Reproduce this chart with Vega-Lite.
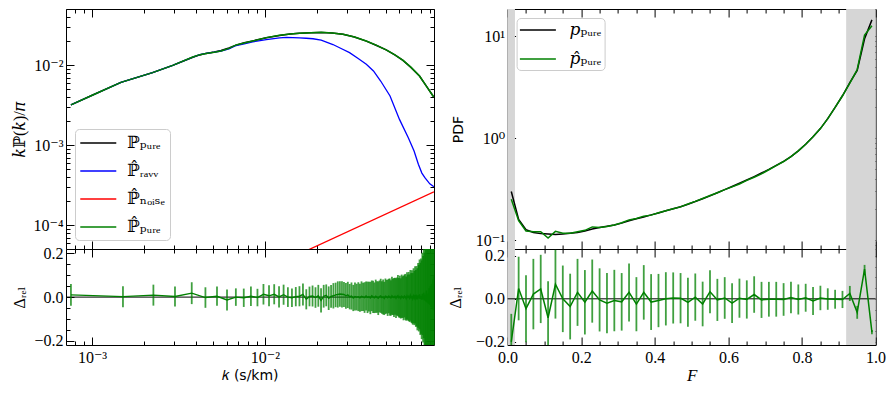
{
"$schema": "https://vega.github.io/schema/vega-lite/v6.json",
"background": "white",
"padding": {"left": 11, "top": 8, "right": 18, "bottom": 6},
"config": {
 "view": {"stroke": "black", "strokeWidth": 1},
 "axis": {"domain": false, "grid": false, "zindex": 1, "labelFont": "Liberation Serif, DejaVu Serif", "labelFontSize": 16, "labelColor": "black", "tickColor": "black", "tickWidth": 1, "titleFont": "Liberation Serif, DejaVu Serif", "titleFontSize": 16, "titleFontWeight": "normal", "titleColor": "black", "labelOverlap": false, "labelFlush": false},
 "legend": {"labelFont": "Liberation Serif, DejaVu Serif", "labelFontSize": 17, "labelColor": "black", "symbolType": "M-1.09,0H3.41", "symbolSize": 256, "symbolStrokeWidth": 1.5, "strokeColor": "#cccccc", "fillColor": "white", "cornerRadius": 4, "padding": 5, "rowPadding": 11, "labelOffset": 29, "offset": 9}
},
"datasets": {
 "ps": [
  {"k":0.000755,"v":0.0032,"s":"P"},{"k":0.00101,"v":0.00426,"s":"P"},{"k":0.00147,"v":0.00612,"s":"P"},{"k":0.00224,"v":0.0081,"s":"P"},{"k":0.00293,"v":0.01,"s":"P"},{"k":0.00383,"v":0.0126,"s":"P"},{"k":0.0042,"v":0.0135,"s":"P"},{"k":0.00457,"v":0.0141,"s":"P"},{"k":0.0051,"v":0.0147,"s":"P"},{"k":0.00558,"v":0.0153,"s":"P"},{"k":0.0062,"v":0.0165,"s":"P"},{"k":0.00682,"v":0.0179,"s":"P"},{"k":0.0076,"v":0.0191,"s":"P"},{"k":0.00851,"v":0.0202,"s":"P"},{"k":0.01019,"v":0.0221,"s":"P"},{"k":0.01216,"v":0.0236,"s":"P"},{"k":0.014,"v":0.0246,"s":"P"},{"k":0.01585,"v":0.0251,"s":"P"},{"k":0.0185,"v":0.0256,"s":"P"},{"k":0.02118,"v":0.0258,"s":"P"},{"k":0.0245,"v":0.0254,"s":"P"},{"k":0.02831,"v":0.0244,"s":"P"},{"k":0.033,"v":0.0226,"s":"P"},{"k":0.03864,"v":0.0201,"s":"P"},{"k":0.044,"v":0.0178,"s":"P"},{"k":0.05035,"v":0.0156,"s":"P"},{"k":0.0565,"v":0.0135,"s":"P"},{"k":0.063,"v":0.01155,"s":"P"},{"k":0.07,"v":0.0094,"s":"P"},{"k":0.0785,"v":0.00736,"s":"P"},{"k":0.086,"v":0.0055,"s":"P"},{"k":0.094,"v":0.00414,"s":"P"},{"k":0.0951,"v":0.004,"s":"P"},
  {"k":0.000755,"v":0.0032,"s":"R"},{"k":0.00101,"v":0.00426,"s":"R"},{"k":0.00147,"v":0.00613,"s":"R"},{"k":0.00224,"v":0.0081,"s":"R"},{"k":0.00293,"v":0.01,"s":"R"},{"k":0.00383,"v":0.0127,"s":"R"},{"k":0.0042,"v":0.0136,"s":"R"},{"k":0.00457,"v":0.0141,"s":"R"},{"k":0.0051,"v":0.0146,"s":"R"},{"k":0.00558,"v":0.0151,"s":"R"},{"k":0.0062,"v":0.0161,"s":"R"},{"k":0.00682,"v":0.0177,"s":"R"},{"k":0.0076,"v":0.0186,"s":"R"},{"k":0.00851,"v":0.0197,"s":"R"},{"k":0.01019,"v":0.021,"s":"R"},{"k":0.01216,"v":0.022,"s":"R"},{"k":0.01335,"v":0.0224,"s":"R"},{"k":0.01585,"v":0.0221,"s":"R"},{"k":0.01734,"v":0.0218,"s":"R"},{"k":0.019,"v":0.0215,"s":"R"},{"k":0.02118,"v":0.0206,"s":"R"},{"k":0.02477,"v":0.0182,"s":"R"},{"k":0.028,"v":0.016,"s":"R"},{"k":0.0309,"v":0.0144,"s":"R"},{"k":0.0345,"v":0.01224,"s":"R"},{"k":0.03864,"v":0.0103,"s":"R"},{"k":0.0425,"v":0.0085,"s":"R"},{"k":0.04677,"v":0.00637,"s":"R"},{"k":0.053,"v":0.00414,"s":"R"},{"k":0.0601,"v":0.00211,"s":"R"},{"k":0.0676,"v":0.001245,"s":"R"},{"k":0.073,"v":0.00085,"s":"R"},{"k":0.0773,"v":0.000579,"s":"R"},{"k":0.081,"v":0.00045,"s":"R"},{"k":0.0843,"v":0.000394,"s":"R"},{"k":0.09,"v":0.00033,"s":"R"},{"k":0.0951,"v":0.000304,"s":"R"},
  {"k":0.012,"v":0.0000332,"s":"N"},{"k":0.0951,"v":0.000263,"s":"N"},
  {"k":0.000755,"v":0.0032,"s":"H"},{"k":0.00101,"v":0.00426,"s":"H"},{"k":0.00147,"v":0.00613,"s":"H"},{"k":0.00224,"v":0.0081,"s":"H"},{"k":0.00293,"v":0.01,"s":"H"},{"k":0.00383,"v":0.0127,"s":"H"},{"k":0.0042,"v":0.0136,"s":"H"},{"k":0.00457,"v":0.0141,"s":"H"},{"k":0.0051,"v":0.0146,"s":"H"},{"k":0.00558,"v":0.0151,"s":"H"},{"k":0.0062,"v":0.0163,"s":"H"},{"k":0.00682,"v":0.018,"s":"H"},{"k":0.0076,"v":0.019,"s":"H"},{"k":0.00851,"v":0.0201,"s":"H"},{"k":0.01019,"v":0.0222,"s":"H"},{"k":0.01216,"v":0.0237,"s":"H"},{"k":0.014,"v":0.0246,"s":"H"},{"k":0.01585,"v":0.0251,"s":"H"},{"k":0.0185,"v":0.0256,"s":"H"},{"k":0.02118,"v":0.0259,"s":"H"},{"k":0.0245,"v":0.0254,"s":"H"},{"k":0.02831,"v":0.0244,"s":"H"},{"k":0.033,"v":0.0226,"s":"H"},{"k":0.03864,"v":0.0201,"s":"H"},{"k":0.044,"v":0.0179,"s":"H"},{"k":0.05035,"v":0.0156,"s":"H"},{"k":0.0565,"v":0.0135,"s":"H"},{"k":0.063,"v":0.01155,"s":"H"},{"k":0.07,"v":0.0095,"s":"H"},{"k":0.0785,"v":0.00736,"s":"H"},{"k":0.086,"v":0.0055,"s":"H"},{"k":0.094,"v":0.00414,"s":"H"},{"k":0.0951,"v":0.004,"s":"H"}
 ],
 "lr": [
  {"k":0.000755,"d":0.010,"e":0.050},{"k":0.00151,"d":0.002,"e":0.048},{"k":0.002265,"d":0.009,"e":0.048},{"k":0.00302,"d":0.003,"e":0.046},{"k":0.003775,"d":0.018,"e":0.050},
  {"k":0.00453,"d":-0.002,"e":0.047},{"k":0.005285,"d":0.004,"e":0.044},{"k":0.00604,"d":-0.013,"e":0.048},{"k":0.006795,"d":0.000,"e":0.040},{"k":0.00755,"d":-0.003,"e":0.042},
  {"k":0.008305,"d":0.004,"e":0.045},{"k":0.00906,"d":-0.002,"e":0.040},{"k":0.009815,"d":0.013,"e":0.047},{"k":0.01057,"d":0.006,"e":0.048},{"k":0.011325,"d":0.013,"e":0.046},
  {"k":0.01208,"d":0.001,"e":0.049},{"k":0.012835,"d":0.011,"e":0.046},{"k":0.01359,"d":0.000,"e":0.045},{"k":0.014345,"d":-0.003,"e":0.042},{"k":0.0151,"d":0.002,"e":0.044},
  {"k":0.015855,"d":0.004,"e":0.046},{"k":0.01661,"d":0.012,"e":0.050},{"k":0.017365,"d":-0.010,"e":0.046},{"k":0.01812,"d":0.003,"e":0.045},{"k":0.018875,"d":0.005,"e":0.048},
  {"k":0.01963,"d":-0.002,"e":0.047},{"k":0.020385,"d":0.006,"e":0.050},{"k":0.02114,"d":-0.015,"e":0.055},{"k":0.021895,"d":0.004,"e":0.052},{"k":0.02265,"d":0.008,"e":0.050},
  {"k":0.023405,"d":-0.005,"e":0.054},{"k":0.02416,"d":0.003,"e":0.052},{"k":0.024915,"d":0.006,"e":0.058},{"k":0.02567,"d":0.010,"e":0.056},{"k":0.026425,"d":0.012,"e":0.060},
  {"k":0.02718,"d":0.014,"e":0.058},{"k":0.027935,"d":0.013,"e":0.060},{"k":0.02869,"d":0.012,"e":0.057},{"k":0.029445,"d":0.006,"e":0.059},{"k":0.0302,"d":0.010,"e":0.060},
  {"k":0.030955,"d":0.002,"e":0.058},{"k":0.03171,"d":0.005,"e":0.062},{"k":0.032465,"d":-0.004,"e":0.060},{"k":0.03322,"d":0.003,"e":0.064},{"k":0.033975,"d":0.000,"e":0.061},
  {"k":0.03473,"d":0.002,"e":0.066},{"k":0.035485,"d":-0.003,"e":0.064},{"k":0.03624,"d":0.004,"e":0.068},{"k":0.036995,"d":0.001,"e":0.065},{"k":0.03775,"d":-0.002,"e":0.070},
  {"k":0.038505,"d":0.005,"e":0.066},{"k":0.03926,"d":-0.001,"e":0.072},{"k":0.040015,"d":0.002,"e":0.068},{"k":0.04077,"d":-0.004,"e":0.074},{"k":0.041525,"d":0.006,"e":0.070},
  {"k":0.04228,"d":0.001,"e":0.074},{"k":0.043035,"d":-0.003,"e":0.070},{"k":0.04379,"d":0.004,"e":0.076},{"k":0.044545,"d":0.000,"e":0.072},{"k":0.0453,"d":-0.005,"e":0.077},
  {"k":0.046055,"d":0.003,"e":0.073},{"k":0.04681,"d":0.006,"e":0.078},{"k":0.047565,"d":-0.002,"e":0.074},{"k":0.04832,"d":0.001,"e":0.080},{"k":0.049075,"d":-0.006,"e":0.076},
  {"k":0.04983,"d":0.004,"e":0.081},{"k":0.050585,"d":0.002,"e":0.077},{"k":0.05134,"d":-0.003,"e":0.083},{"k":0.052095,"d":0.005,"e":0.079},{"k":0.05285,"d":0.000,"e":0.085},
  {"k":0.053605,"d":-0.004,"e":0.081},{"k":0.05436,"d":0.006,"e":0.087},{"k":0.055115,"d":0.001,"e":0.083},{"k":0.05587,"d":-0.002,"e":0.089},{"k":0.056625,"d":0.004,"e":0.085},
  {"k":0.05738,"d":-0.005,"e":0.091},{"k":0.058135,"d":0.003,"e":0.087},{"k":0.05889,"d":0.007,"e":0.094},{"k":0.059645,"d":-0.003,"e":0.090},{"k":0.0604,"d":0.002,"e":0.096},
  {"k":0.061155,"d":-0.006,"e":0.092},{"k":0.06191,"d":0.004,"e":0.099},{"k":0.062665,"d":0.000,"e":0.095},{"k":0.06342,"d":-0.004,"e":0.102},{"k":0.064175,"d":0.005,"e":0.098},
  {"k":0.06493,"d":0.001,"e":0.105},{"k":0.065685,"d":-0.007,"e":0.101},{"k":0.06644,"d":0.006,"e":0.108},{"k":0.067195,"d":-0.002,"e":0.105},{"k":0.06795,"d":0.003,"e":0.112},
  {"k":0.068705,"d":-0.005,"e":0.109},{"k":0.06946,"d":0.008,"e":0.116},{"k":0.070215,"d":-0.003,"e":0.113},{"k":0.07097,"d":0.002,"e":0.121},{"k":0.071725,"d":-0.008,"e":0.118},
  {"k":0.07248,"d":0.006,"e":0.126},{"k":0.073235,"d":-0.004,"e":0.124},{"k":0.07399,"d":0.010,"e":0.131},{"k":0.074745,"d":-0.006,"e":0.130},{"k":0.0755,"d":0.004,"e":0.138},
  {"k":0.076255,"d":-0.010,"e":0.142},{"k":0.07701,"d":0.008,"e":0.148},{"k":0.077765,"d":-0.005,"e":0.152},{"k":0.07852,"d":0.012,"e":0.160},{"k":0.079275,"d":-0.008,"e":0.165},
  {"k":0.08003,"d":0.005,"e":0.172},{"k":0.080785,"d":-0.012,"e":0.180},{"k":0.08154,"d":0.015,"e":0.188},{"k":0.082295,"d":-0.010,"e":0.198},{"k":0.08305,"d":0.020,"e":0.208},
  {"k":0.083805,"d":-0.015,"e":0.218},{"k":0.08456,"d":0.010,"e":0.23},{"k":0.085315,"d":-0.020,"e":0.24},{"k":0.08607,"d":0.030,"e":0.255},{"k":0.086825,"d":-0.025,"e":0.27},
  {"k":0.08758,"d":0.015,"e":0.29},{"k":0.088335,"d":-0.030,"e":0.300},{"k":0.08909,"d":0.040,"e":0.320},{"k":0.089845,"d":-0.035,"e":0.340},{"k":0.0906,"d":0.050,"e":0.350},
  {"k":0.091355,"d":-0.045,"e":0.370},{"k":0.09211,"d":0.060,"e":0.390},{"k":0.092865,"d":-0.050,"e":0.400},{"k":0.09362,"d":0.080,"e":0.420},{"k":0.094375,"d":-0.060,"e":0.430},
  {"k":0.09513,"d":0.100,"e":0.450}
 ],
 "pdf": [
  {"F":0.01,"v":0.30,"s":"P"},{"F":0.03,"v":0.16,"s":"P"},{"F":0.05,"v":0.127,"s":"P"},{"F":0.07,"v":0.119,"s":"P"},{"F":0.09,"v":0.116,"s":"P"},{"F":0.11,"v":0.115,"s":"P"},{"F":0.13,"v":0.114,"s":"P"},{"F":0.15,"v":0.115,"s":"P"},{"F":0.17,"v":0.117,"s":"P"},{"F":0.19,"v":0.119,"s":"P"},
  {"F":0.21,"v":0.123,"s":"P"},{"F":0.23,"v":0.129,"s":"P"},{"F":0.25,"v":0.133,"s":"P"},{"F":0.27,"v":0.137,"s":"P"},{"F":0.29,"v":0.141,"s":"P"},{"F":0.31,"v":0.147,"s":"P"},{"F":0.33,"v":0.155,"s":"P"},{"F":0.35,"v":0.162,"s":"P"},{"F":0.37,"v":0.169,"s":"P"},{"F":0.39,"v":0.177,"s":"P"},
  {"F":0.41,"v":0.185,"s":"P"},{"F":0.43,"v":0.194,"s":"P"},{"F":0.45,"v":0.203,"s":"P"},{"F":0.47,"v":0.213,"s":"P"},{"F":0.49,"v":0.225,"s":"P"},{"F":0.51,"v":0.239,"s":"P"},{"F":0.53,"v":0.255,"s":"P"},{"F":0.55,"v":0.272,"s":"P"},{"F":0.57,"v":0.292,"s":"P"},{"F":0.59,"v":0.313,"s":"P"},
  {"F":0.61,"v":0.336,"s":"P"},{"F":0.63,"v":0.361,"s":"P"},{"F":0.65,"v":0.389,"s":"P"},{"F":0.67,"v":0.42,"s":"P"},{"F":0.69,"v":0.455,"s":"P"},{"F":0.71,"v":0.494,"s":"P"},{"F":0.73,"v":0.54,"s":"P"},{"F":0.75,"v":0.593,"s":"P"},{"F":0.77,"v":0.66,"s":"P"},{"F":0.79,"v":0.75,"s":"P"},
  {"F":0.81,"v":0.87,"s":"P"},{"F":0.83,"v":1.03,"s":"P"},{"F":0.85,"v":1.24,"s":"P"},{"F":0.87,"v":1.55,"s":"P"},{"F":0.89,"v":2.0,"s":"P"},{"F":0.91,"v":2.6,"s":"P"},{"F":0.93,"v":3.5,"s":"P"},{"F":0.95,"v":4.6,"s":"P"},{"F":0.97,"v":9.4,"s":"P"},{"F":0.99,"v":14.4,"s":"P"},
  {"F":0.01,"v":0.252,"s":"H"},{"F":0.03,"v":0.155,"s":"H"},{"F":0.05,"v":0.123,"s":"H"},{"F":0.07,"v":0.121,"s":"H"},{"F":0.09,"v":0.121,"s":"H"},{"F":0.11,"v":0.105,"s":"H"},{"F":0.13,"v":0.122,"s":"H"},{"F":0.15,"v":0.117,"s":"H"},{"F":0.17,"v":0.117,"s":"H"},{"F":0.19,"v":0.121,"s":"H"},
  {"F":0.21,"v":0.125,"s":"H"},{"F":0.23,"v":0.135,"s":"H"},{"F":0.25,"v":0.133,"s":"H"},{"F":0.27,"v":0.136,"s":"H"},{"F":0.29,"v":0.141,"s":"H"},{"F":0.31,"v":0.148,"s":"H"},{"F":0.33,"v":0.158,"s":"H"},{"F":0.35,"v":0.163,"s":"H"},{"F":0.37,"v":0.172,"s":"H"},{"F":0.39,"v":0.176,"s":"H"},
  {"F":0.41,"v":0.186,"s":"H"},{"F":0.43,"v":0.194,"s":"H"},{"F":0.45,"v":0.203,"s":"H"},{"F":0.47,"v":0.212,"s":"H"},{"F":0.49,"v":0.226,"s":"H"},{"F":0.51,"v":0.24,"s":"H"},{"F":0.53,"v":0.256,"s":"H"},{"F":0.55,"v":0.274,"s":"H"},{"F":0.57,"v":0.292,"s":"H"},{"F":0.59,"v":0.313,"s":"H"},
  {"F":0.61,"v":0.333,"s":"H"},{"F":0.63,"v":0.355,"s":"H"},{"F":0.65,"v":0.385,"s":"H"},{"F":0.67,"v":0.414,"s":"H"},{"F":0.69,"v":0.447,"s":"H"},{"F":0.71,"v":0.49,"s":"H"},{"F":0.73,"v":0.537,"s":"H"},{"F":0.75,"v":0.59,"s":"H"},{"F":0.77,"v":0.66,"s":"H"},{"F":0.79,"v":0.75,"s":"H"},
  {"F":0.81,"v":0.87,"s":"H"},{"F":0.83,"v":1.03,"s":"H"},{"F":0.85,"v":1.24,"s":"H"},{"F":0.87,"v":1.55,"s":"H"},{"F":0.89,"v":2.0,"s":"H"},{"F":0.91,"v":2.6,"s":"H"},{"F":0.93,"v":3.45,"s":"H"},{"F":0.95,"v":4.7,"s":"H"},{"F":0.97,"v":10.2,"s":"H"},{"F":0.99,"v":12.6,"s":"H"}
 ],
 "rr": [
  {"F":0.01,"d":-0.2,"e":0.13},{"F":0.03,"d":0.048,"e":0.148},{"F":0.05,"d":-0.046,"e":0.156},{"F":0.07,"d":0.022,"e":0.164},{"F":0.09,"d":0.046,"e":0.159},
  {"F":0.11,"d":-0.088,"e":0.17},{"F":0.13,"d":0.068,"e":0.16},{"F":0.15,"d":0.0,"e":0.155},{"F":0.17,"d":-0.036,"e":0.153},{"F":0.19,"d":0.03,"e":0.156},
  {"F":0.21,"d":-0.016,"e":0.15},{"F":0.23,"d":0.036,"e":0.147},{"F":0.25,"d":-0.005,"e":0.147},{"F":0.27,"d":-0.02,"e":0.14},{"F":0.29,"d":-0.008,"e":0.143},
  {"F":0.31,"d":-0.014,"e":0.134},{"F":0.33,"d":0.03,"e":0.135},{"F":0.35,"d":-0.025,"e":0.126},{"F":0.37,"d":0.03,"e":0.127},{"F":0.39,"d":-0.015,"e":0.13},
  {"F":0.41,"d":-0.008,"e":0.124},{"F":0.43,"d":0.0,"e":0.124},{"F":0.45,"d":0.004,"e":0.119},{"F":0.47,"d":0.003,"e":0.117},{"F":0.49,"d":-0.016,"e":0.114},
  {"F":0.51,"d":0.008,"e":0.11},{"F":0.53,"d":-0.024,"e":0.104},{"F":0.55,"d":0.033,"e":0.1},{"F":0.57,"d":-0.005,"e":0.098},{"F":0.59,"d":0.004,"e":0.097},
  {"F":0.61,"d":-0.02,"e":0.092},{"F":0.63,"d":0.003,"e":0.091},{"F":0.65,"d":-0.003,"e":0.089},{"F":0.67,"d":0.02,"e":0.085},{"F":0.69,"d":-0.005,"e":0.084},
  {"F":0.71,"d":-0.002,"e":0.081},{"F":0.73,"d":-0.002,"e":0.081},{"F":0.75,"d":-0.003,"e":0.076},{"F":0.77,"d":0.006,"e":0.073},{"F":0.79,"d":-0.003,"e":0.07},
  {"F":0.81,"d":0.005,"e":0.065},{"F":0.83,"d":-0.01,"e":0.065},{"F":0.85,"d":0.004,"e":0.057},{"F":0.87,"d":-0.001,"e":0.05},{"F":0.89,"d":-0.002,"e":0.044},
  {"F":0.91,"d":-0.003,"e":0.04},{"F":0.93,"d":0.025,"e":0.035},{"F":0.95,"d":-0.063,"e":0.03},{"F":0.97,"d":0.138,"e":0.02},{"F":0.99,"d":-0.155,"e":0.01}
 ],
 "mask": [{"a":0,"b":0.02},{"a":0.92,"b":1}]
},
"columns": 2,
"spacing": {"row": 0, "column": 73.6},
"bounds": "flush",
"resolve": {"scale": {"color": "independent"}, "legend": {"color": "independent"}},
"concat": [
  {"width": 368, "height": 240, "data": {"name": "ps"},
   "resolve": {"axis": {"x": "independent", "y": "independent"}},
   "layer": [
    {"mark": {"type": "point", "opacity": 0, "clip": true}, "encoding": {
      "x": {"field": "k", "type": "quantitative", "scale": {"type": "log", "domain": [0.000707, 0.0952], "nice": false}, "axis": {"orient": "bottom", "values": [0.001, 0.01], "labels": false, "tickSize": -8, "title": null}},
      "y": {"field": "v", "type": "quantitative", "scale": {"type": "log", "domain": [0.0000506, 0.0506], "nice": false}, "axis": {"orient": "left", "values": [0.0001, 0.001, 0.01], "labelExpr": "datum.value < 0.0005 ? '10⁻⁴' : datum.value < 0.005 ? '10⁻³' : '10⁻²'", "tickSize": -8, "labelPadding": 11, "title": "𝑘ℙ(𝑘)/𝜋", "titlePadding": 5}}}},
    {"mark": {"type": "point", "opacity": 0, "clip": true}, "encoding": {
      "x": {"field": "k", "type": "quantitative", "axis": {"orient": "bottom", "values": [0.0008, 0.0009, 0.002, 0.003, 0.004, 0.005, 0.006, 0.007, 0.008, 0.009, 0.02, 0.03, 0.04, 0.05, 0.06, 0.07, 0.08, 0.09], "labels": false, "tickSize": -4, "title": null}},
      "y": {"field": "v", "type": "quantitative", "axis": {"orient": "left", "values": [0.00006, 0.00007, 0.00008, 0.00009, 0.0002, 0.0003, 0.0004, 0.0005, 0.0006, 0.0007, 0.0008, 0.0009, 0.002, 0.003, 0.004, 0.005, 0.006, 0.007, 0.008, 0.009, 0.02, 0.03, 0.04, 0.05], "labels": false, "tickSize": -4, "title": null}}}},
    {"mark": {"type": "point", "opacity": 0, "clip": true}, "encoding": {
      "x": {"field": "k", "type": "quantitative", "axis": {"orient": "top", "values": [0.001, 0.01], "labels": false, "tickSize": -8, "title": null}},
      "y": {"field": "v", "type": "quantitative", "axis": {"orient": "right", "values": [0.0001, 0.001, 0.01], "labels": false, "tickSize": -8, "title": null}}}},
    {"mark": {"type": "point", "opacity": 0, "clip": true}, "encoding": {
      "x": {"field": "k", "type": "quantitative", "axis": {"orient": "top", "values": [0.0008, 0.0009, 0.002, 0.003, 0.004, 0.005, 0.006, 0.007, 0.008, 0.009, 0.02, 0.03, 0.04, 0.05, 0.06, 0.07, 0.08, 0.09], "labels": false, "tickSize": -4, "title": null}},
      "y": {"field": "v", "type": "quantitative", "axis": {"orient": "right", "values": [0.00006, 0.00007, 0.00008, 0.00009, 0.0002, 0.0003, 0.0004, 0.0005, 0.0006, 0.0007, 0.0008, 0.0009, 0.002, 0.003, 0.004, 0.005, 0.006, 0.007, 0.008, 0.009, 0.02, 0.03, 0.04, 0.05], "labels": false, "tickSize": -4, "title": null}}}},
    {"transform": [{"filter": "datum.s == 'P'"}], "mark": {"type": "line", "strokeWidth": 1.5, "clip": true}, "encoding": {
      "x": {"field": "k", "type": "quantitative", "axis": null},
      "y": {"field": "v", "type": "quantitative", "axis": null},
      "color": {"field": "s", "type": "nominal", "scale": {"domain": ["P", "R", "N", "H"], "range": ["black", "#0000ff", "#ff0000", "#008000"]}, "legend": {"orient": "bottom-left", "title": null, "labelExpr": "datum.label == 'P' ? 'ℙₚᵤᵣₑ' : datum.label == 'R' ? 'ℙ̂ᵣₐᵥᵥ' : datum.label == 'N' ? 'ℙ̂ₙₒᵢₛₑ' : 'ℙ̂ₚᵤᵣₑ'"}}}},
    {"transform": [{"filter": "datum.s == 'R'"}], "mark": {"type": "line", "strokeWidth": 1.3, "clip": true}, "encoding": {
      "x": {"field": "k", "type": "quantitative", "axis": null},
      "y": {"field": "v", "type": "quantitative", "axis": null},
      "color": {"field": "s", "type": "nominal"}}},
    {"transform": [{"filter": "datum.s == 'N'"}], "mark": {"type": "line", "strokeWidth": 1.3, "clip": true}, "encoding": {
      "x": {"field": "k", "type": "quantitative", "axis": null},
      "y": {"field": "v", "type": "quantitative", "axis": null},
      "color": {"field": "s", "type": "nominal"}}},
    {"transform": [{"filter": "datum.s == 'H'"}], "mark": {"type": "line", "strokeWidth": 1.5, "clip": true}, "encoding": {
      "x": {"field": "k", "type": "quantitative", "axis": null},
      "y": {"field": "v", "type": "quantitative", "axis": null},
      "color": {"field": "s", "type": "nominal"}}}
   ]},
  {"width": 368, "height": 240, "data": {"name": "pdf"},
   "resolve": {"axis": {"x": "independent", "y": "independent"}},
   "layer": [
    {"data": {"name": "mask"}, "mark": {"type": "rect", "color": "#d6d6d6"}, "encoding": {
      "x": {"field": "a", "type": "quantitative", "scale": {"domain": [0, 1], "nice": false, "zero": false}, "axis": null},
      "x2": {"field": "b"}}},
    {"mark": {"type": "point", "opacity": 0, "clip": true}, "encoding": {
      "x": {"field": "F", "type": "quantitative", "axis": {"orient": "bottom", "values": [0, 0.2, 0.4, 0.6, 0.8, 1], "labels": false, "tickSize": -8, "title": null}},
      "y": {"field": "v", "type": "quantitative", "scale": {"type": "log", "domain": [0.082, 18.4], "nice": false}, "axis": {"orient": "left", "values": [0.1, 1, 10], "labelExpr": "datum.value < 0.5 ? '10⁻¹' : datum.value < 5 ? '10⁰' : '10¹'", "tickSize": -8, "labelPadding": 11, "title": "PDF", "titleFont": "DejaVu Sans", "titleFontSize": 14, "titlePadding": 10}}}},
    {"mark": {"type": "point", "opacity": 0, "clip": true}, "encoding": {
      "x": {"field": "F", "type": "quantitative", "axis": {"orient": "bottom", "values": [0.05, 0.1, 0.15, 0.25, 0.3, 0.35, 0.45, 0.5, 0.55, 0.65, 0.7, 0.75, 0.85, 0.9, 0.95], "labels": false, "tickSize": -4, "title": null}},
      "y": {"field": "v", "type": "quantitative", "axis": {"orient": "left", "values": [0.09, 0.2, 0.3, 0.4, 0.5, 0.6, 0.7, 0.8, 0.9, 2, 3, 4, 5, 6, 7, 8, 9], "labels": false, "tickSize": -4, "title": null}}}},
    {"mark": {"type": "point", "opacity": 0, "clip": true}, "encoding": {
      "x": {"field": "F", "type": "quantitative", "axis": {"orient": "top", "values": [0, 0.2, 0.4, 0.6, 0.8, 1], "labels": false, "tickSize": -8, "title": null}},
      "y": {"field": "v", "type": "quantitative", "axis": {"orient": "right", "values": [0.1, 1, 10], "labels": false, "tickSize": -8, "title": null}}}},
    {"mark": {"type": "point", "opacity": 0, "clip": true}, "encoding": {
      "x": {"field": "F", "type": "quantitative", "axis": {"orient": "top", "values": [0.05, 0.1, 0.15, 0.25, 0.3, 0.35, 0.45, 0.5, 0.55, 0.65, 0.7, 0.75, 0.85, 0.9, 0.95], "labels": false, "tickSize": -4, "title": null}},
      "y": {"field": "v", "type": "quantitative", "axis": {"orient": "right", "values": [0.09, 0.2, 0.3, 0.4, 0.5, 0.6, 0.7, 0.8, 0.9, 2, 3, 4, 5, 6, 7, 8, 9], "labels": false, "tickSize": -4, "title": null}}}},
    {"transform": [{"filter": "datum.s == 'P'"}], "mark": {"type": "line", "strokeWidth": 1.5, "clip": true}, "encoding": {
      "x": {"field": "F", "type": "quantitative", "axis": null},
      "y": {"field": "v", "type": "quantitative", "axis": null},
      "color": {"field": "s", "type": "nominal", "scale": {"domain": ["P", "H"], "range": ["black", "#008000"]}, "legend": {"orient": "top-left", "title": null, "padding": 3, "rowPadding": 12, "labelOffset": 32, "labelExpr": "datum.label == 'P' ? '𝑝ₚᵤᵣₑ' : '𝑝̂ₚᵤᵣₑ'"}}}},
    {"transform": [{"filter": "datum.s == 'H'"}], "mark": {"type": "line", "strokeWidth": 1.5, "clip": true}, "encoding": {
      "x": {"field": "F", "type": "quantitative", "axis": null},
      "y": {"field": "v", "type": "quantitative", "axis": null},
      "color": {"field": "s", "type": "nominal"}}}
   ]},
  {"width": 368, "height": 96, "data": {"name": "lr"},
   "resolve": {"axis": {"x": "independent", "y": "independent"}},
   "layer": [
    {"mark": {"type": "point", "opacity": 0, "clip": true}, "encoding": {
      "x": {"field": "k", "type": "quantitative", "scale": {"type": "log", "domain": [0.000707, 0.0952], "nice": false}, "axis": {"orient": "bottom", "values": [0.001, 0.01], "labelExpr": "datum.value < 0.005 ? '10⁻³' : '10⁻²'", "tickSize": -8, "labelPadding": 12, "title": "𝑘 (s/km)", "titleFont": "DejaVu Sans", "titleFontSize": 14, "titlePadding": 3}},
      "y": {"field": "d", "type": "quantitative", "scale": {"domain": [-0.219, 0.22], "nice": false, "zero": false, "clamp": true}, "axis": {"orient": "left", "values": [-0.2, 0, 0.2], "format": ".1f", "tickSize": -8, "labelPadding": 11, "title": "Δᵣₑₗ", "titlePadding": 6}}}},
    {"mark": {"type": "point", "opacity": 0, "clip": true}, "encoding": {
      "x": {"field": "k", "type": "quantitative", "axis": {"orient": "bottom", "values": [0.0008, 0.0009, 0.002, 0.003, 0.004, 0.005, 0.006, 0.007, 0.008, 0.009, 0.02, 0.03, 0.04, 0.05, 0.06, 0.07, 0.08, 0.09], "labels": false, "tickSize": -4, "title": null}},
      "y": {"field": "d", "type": "quantitative", "axis": {"orient": "left", "values": [-0.15, -0.1, -0.05, 0.05, 0.1, 0.15], "labels": false, "tickSize": -4, "title": null}}}},
    {"mark": {"type": "point", "opacity": 0, "clip": true}, "encoding": {
      "x": {"field": "k", "type": "quantitative", "axis": {"orient": "top", "values": [0.001, 0.01], "labels": false, "tickSize": -8, "title": null}},
      "y": {"field": "d", "type": "quantitative", "axis": {"orient": "right", "values": [-0.2, 0, 0.2], "labels": false, "tickSize": -8, "title": null}}}},
    {"mark": {"type": "point", "opacity": 0, "clip": true}, "encoding": {
      "x": {"field": "k", "type": "quantitative", "axis": {"orient": "top", "values": [0.0008, 0.0009, 0.002, 0.003, 0.004, 0.005, 0.006, 0.007, 0.008, 0.009, 0.02, 0.03, 0.04, 0.05, 0.06, 0.07, 0.08, 0.09], "labels": false, "tickSize": -4, "title": null}},
      "y": {"field": "d", "type": "quantitative", "axis": {"orient": "right", "values": [-0.15, -0.1, -0.05, 0.05, 0.1, 0.15], "labels": false, "tickSize": -4, "title": null}}}},
    {"data": {"values": [{}]}, "mark": {"type": "rule", "color": "black", "strokeWidth": 1}, "encoding": {"y": {"datum": 0, "type": "quantitative", "axis": null}}},
    {"mark": {"type": "errorbar", "color": "#008000", "opacity": 0.75, "thickness": 1.8}, "encoding": {
      "x": {"field": "k", "type": "quantitative", "axis": null},
      "y": {"field": "d", "type": "quantitative", "axis": null},
      "yError": {"field": "e"}}},
    {"mark": {"type": "line", "color": "#008000", "strokeWidth": 1.4, "clip": true}, "encoding": {
      "x": {"field": "k", "type": "quantitative", "axis": null},
      "y": {"field": "d", "type": "quantitative", "axis": null}}}
   ]},
  {"width": 368, "height": 96, "data": {"name": "rr"},
   "resolve": {"axis": {"x": "independent", "y": "independent"}},
   "layer": [
    {"data": {"name": "mask"}, "mark": {"type": "rect", "color": "#d6d6d6"}, "encoding": {
      "x": {"field": "a", "type": "quantitative", "scale": {"domain": [0, 1], "nice": false, "zero": false}, "axis": null},
      "x2": {"field": "b"}}},
    {"mark": {"type": "point", "opacity": 0, "clip": true}, "encoding": {
      "x": {"field": "F", "type": "quantitative", "axis": {"orient": "bottom", "values": [0, 0.2, 0.4, 0.6, 0.8, 1], "format": ".1f", "tickSize": -8, "labelPadding": 12, "title": "F", "titleFontStyle": "italic", "titleFontSize": 17, "titlePadding": 2}},
      "y": {"field": "d", "type": "quantitative", "scale": {"domain": [-0.215, 0.232], "nice": false, "zero": false, "clamp": true}, "axis": {"orient": "left", "values": [-0.2, 0, 0.2], "format": ".1f", "tickSize": -8, "labelPadding": 11, "title": "Δᵣₑₗ", "titlePadding": 12}}}},
    {"mark": {"type": "point", "opacity": 0, "clip": true}, "encoding": {
      "x": {"field": "F", "type": "quantitative", "axis": {"orient": "bottom", "values": [0.05, 0.1, 0.15, 0.25, 0.3, 0.35, 0.45, 0.5, 0.55, 0.65, 0.7, 0.75, 0.85, 0.9, 0.95], "labels": false, "tickSize": -4, "title": null}},
      "y": {"field": "d", "type": "quantitative", "axis": {"orient": "left", "values": [-0.15, -0.1, -0.05, 0.05, 0.1, 0.15], "labels": false, "tickSize": -4, "title": null}}}},
    {"mark": {"type": "point", "opacity": 0, "clip": true}, "encoding": {
      "x": {"field": "F", "type": "quantitative", "axis": {"orient": "top", "values": [0, 0.2, 0.4, 0.6, 0.8, 1], "labels": false, "tickSize": -8, "title": null}},
      "y": {"field": "d", "type": "quantitative", "axis": {"orient": "right", "values": [-0.2, 0, 0.2], "labels": false, "tickSize": -8, "title": null}}}},
    {"mark": {"type": "point", "opacity": 0, "clip": true}, "encoding": {
      "x": {"field": "F", "type": "quantitative", "axis": {"orient": "top", "values": [0.05, 0.1, 0.15, 0.25, 0.3, 0.35, 0.45, 0.5, 0.55, 0.65, 0.7, 0.75, 0.85, 0.9, 0.95], "labels": false, "tickSize": -4, "title": null}},
      "y": {"field": "d", "type": "quantitative", "axis": {"orient": "right", "values": [-0.15, -0.1, -0.05, 0.05, 0.1, 0.15], "labels": false, "tickSize": -4, "title": null}}}},
    {"data": {"values": [{}]}, "mark": {"type": "rule", "color": "black", "strokeWidth": 1}, "encoding": {"y": {"datum": 0, "type": "quantitative", "axis": null}}},
    {"mark": {"type": "errorbar", "color": "#008000", "opacity": 0.75, "thickness": 1.8}, "encoding": {
      "x": {"field": "F", "type": "quantitative", "axis": null},
      "y": {"field": "d", "type": "quantitative", "axis": null},
      "yError": {"field": "e"}}},
    {"mark": {"type": "line", "color": "#008000", "strokeWidth": 1.5, "clip": true}, "encoding": {
      "x": {"field": "F", "type": "quantitative", "axis": null},
      "y": {"field": "d", "type": "quantitative", "axis": null}}}
   ]}
]
}
